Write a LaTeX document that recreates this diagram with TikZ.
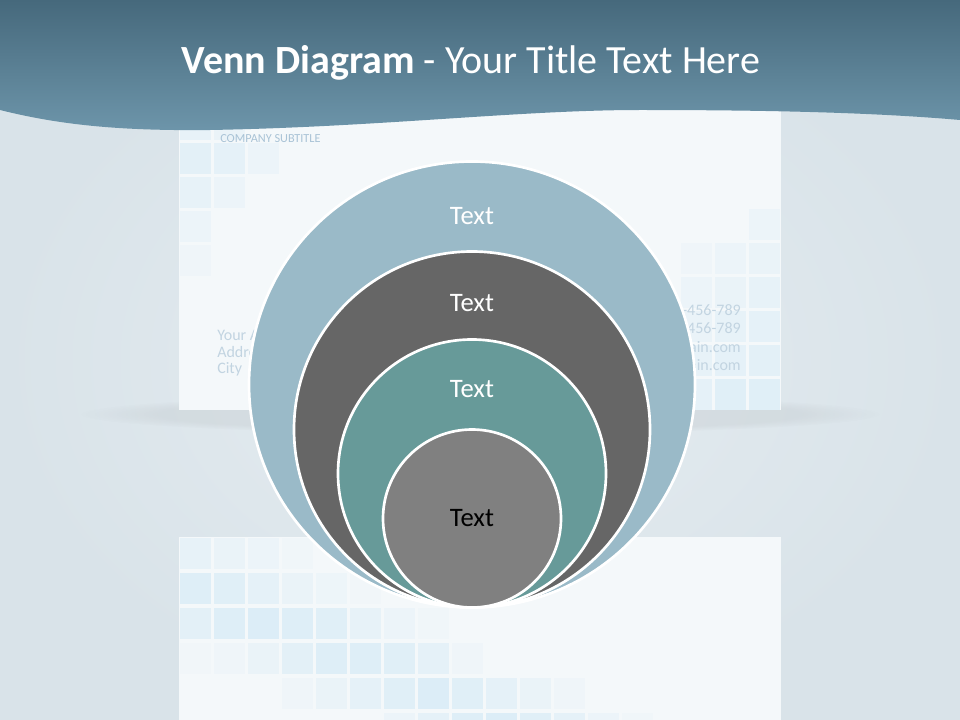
\documentclass[tikz,border=0pt]{standalone}
\usepackage{fontspec}
\setmainfont{Carlito}
\usepackage{xcolor}
\usetikzlibrary{positioning, fadings}

\definecolor{bannerdark}{HTML}{46697C}
\definecolor{bannerlight}{HTML}{6D95AA}
\definecolor{bgedge}{HTML}{D9E3E9}
\definecolor{bgmid}{HTML}{E6EDF1}
\definecolor{cardfill}{HTML}{F4F8FA}
\definecolor{tileblue}{HTML}{DCEDF7}
\definecolor{cardtext}{HTML}{C2D4E1}
\definecolor{subtext}{HTML}{A9C3D6}
\definecolor{ringblue}{HTML}{9ABAC8}
\definecolor{ringdark}{HTML}{666666}
\definecolor{ringteal}{HTML}{679A99}
\definecolor{ringgrey}{HTML}{808080}

\begin{document}
\begin{tikzpicture}[
    x=0.75pt,y=-0.75pt,
    ring/.style={circle, draw=white, line width=2pt, inner sep=0pt},
    ringlabel/.style={font=\fontsize{20}{22}\selectfont, text=white},
    cardlabel/.style={font=\fontsize{12}{14}\selectfont, text=cardtext, inner sep=0pt},
    tile/.style={fill=tileblue}
]
    \useasboundingbox (0,0) rectangle (960,720);

    % ================= BACKGROUND =================
    \shade[inner color=bgmid, outer color=bgedge] (0,0) rectangle (960,720);
    \fill[black!70, opacity=0.07, path fading=circle with fuzzy edge 20 percent] (480,414) ellipse (400 and 20);

    % ================= CARDS =================
    \fill[cardfill] (179,90) rectangle (781,410);
    \fill[cardfill] (179,537) rectangle (781,720);

    % upper card tiles
    \foreach \c/\r/\o in {0/0/.5, 1/0/.4, 0/1/.7, 1/1/.6, 2/1/.3, 0/2/.5, 1/2/.3, 0/3/.3, 0/4/.2}
        \fill[tile, opacity=\o] (180+34*\c,109+34*\r) rectangle ++(31,31);
    \foreach \c/\r/\o in {2/0/.3, 0/1/.2, 1/1/.3, 2/1/.4, 0/2/.3, 1/2/.4, 2/2/.5,
                          0/3/.4, 1/3/.5, 2/3/.6, 0/4/.5, 1/4/.6, 2/4/.7, 0/5/.6, 1/5/.8, 2/5/.8}
        \fill[tile, opacity=\o] (681+34*\c,209+34*\r) rectangle ++(31,31);

    % lower card tiles
    \foreach \c/\r/\o in {0/0/.5, 1/0/.4, 2/0/.3, 3/0/.15,
                          0/1/.9, 1/1/.8, 2/1/.6, 3/1/.4, 4/1/.25, 5/1/.12,
                          0/2/.7, 1/2/.9, 2/2/1, 3/2/.9, 4/2/.8, 5/2/.5, 6/2/.3, 7/2/.15,
                          0/3/.1, 1/3/.2, 2/3/.4, 3/3/.7, 4/3/.9, 5/3/.9, 6/3/.8, 7/3/.6, 8/3/.2,
                          3/4/.2, 4/4/.4, 5/4/.6, 6/4/.8, 7/4/1, 8/4/.8, 9/4/.6, 10/4/.4, 11/4/.2,
                          6/5/.3, 7/5/.6, 8/5/.9, 9/5/1, 10/5/.8, 11/5/.6, 12/5/.3, 13/5/.15}
        \fill[tile, opacity=\o] (180+34*\c,538+35*\r) rectangle ++(31,31);

    % card texts
    \node[cardlabel, anchor=west, font=\fontsize{9.2}{11}\selectfont, text=subtext] (subtitle) at (220,139) {COMPANY SUBTITLE};
    \node[cardlabel, anchor=west] (addr1) at (217,335) {Your A};
    \node[cardlabel, anchor=west] (addr2) at (217,352) {Addre};
    \node[cardlabel, anchor=west] (addr3) at (217,369) {City};
    \node[cardlabel, anchor=east] (phone1) at (741,310) {-456-789};
    \node[cardlabel, anchor=east] (phone2) at (741,328) {456-789};
    \node[cardlabel, anchor=east] (mail1) at (741,347) {ain.com};
    \node[cardlabel, anchor=east] (mail2) at (741,365) {ain.com};

    % ================= BANNER =================
    \shade[top color=bannerdark, bottom color=bannerlight]
        (0,0) -- (0,110) .. controls (60,125) and (120,131) .. (210,130)
        .. controls (380,127) and (520,110) .. (640,110)
        .. controls (780,110) and (880,113) .. (960,120) -- (960,0) -- cycle;
    \node[text=white, font=\fontsize{30}{34}\selectfont] (title) at (471,63)
        {\textbf{Venn Diagram} - Your Title Text Here};

    % ================= RINGS =================
    \node[ring, fill=ringblue, minimum size=334.5pt] (outer) at (472,384.5) {};
    \node[ring, fill=ringdark, minimum size=267pt] (second) at (472,429.5) {};
    \node[ring, fill=ringteal, minimum size=201pt] (third) at (472,473.5) {};
    \node[ring, fill=ringgrey, minimum size=133.5pt] (inner) at (472,518.5) {};

    \node[ringlabel] (outer text) at (472,216) {Text};
    \node[ringlabel] (second text) at (472,303) {Text};
    \node[ringlabel] (third text) at (472,389) {Text};
    \node[ringlabel, text=black] (inner text) at (inner) {Text};

\end{tikzpicture}
\end{document}
